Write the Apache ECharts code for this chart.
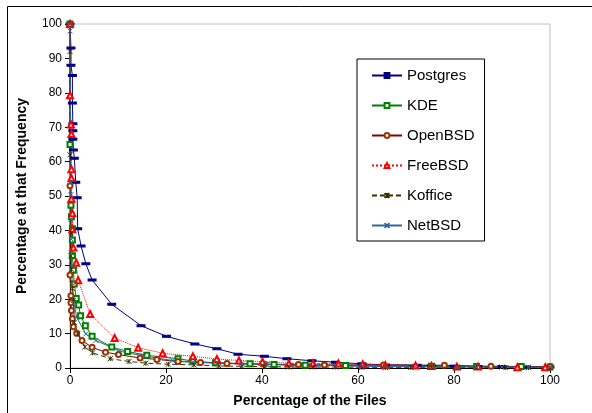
<!DOCTYPE html>
<html><head><meta charset="utf-8">
<script src="https://cdn.jsdelivr.net/npm/echarts@6/dist/echarts.min.js"></script>
<style>html,body{margin:0;padding:0;background:#fff}#c{width:592px;height:413px}</style>
</head><body><div id="c"></div>
<script>
const xTicks = [0, 20, 40, 60, 80, 100];
const seriesNames = ['Postgres', 'KDE', 'OpenBSD', 'FreeBSD', 'Koffice', 'NetBSD'];

const postgresX = [0, 0.2, 0.2, 0.5, 0.5, 0.6, 0.6, 0.6, 0.7, 0.9, 1.2, 1.5, 1.6, 2.3, 3.3, 4.6, 8.7, 14.8, 20.1, 26, 30.6, 35, 40.5, 45.2, 50.4, 55.3, 60.8, 65.7, 72.3, 75.3, 80, 85, 90, 95, 100];
const postgresY = [100, 93, 88, 85, 77, 71, 69, 66.5, 63.4, 61, 54, 49.5, 40.5, 35.5, 30.3, 25.6, 18.5, 12.3, 9.2, 7, 5.6, 4, 3.4, 2.7, 2.1, 1.7, 1.2, 0.9, 0.8, 0.6, 0.5, 0.4, 0.4, 0.3, 0.3];

const kdeX = [0, 0, 0.2, 0.3, 0.5, 0.5, 0.5, 0.7, 0.9, 1.3, 1.8, 2.2, 3.2, 4.6, 8.7, 12, 16, 22.5, 25.6, 30.3, 37.5, 42.5, 49, 57.4, 75.3, 84.7, 94, 100];
const kdeY = [100, 65, 47.3, 44, 40.5, 37.2, 32.6, 28.4, 24.4, 20.2, 18.3, 15.2, 12.3, 9.2, 6.1, 4.8, 3.7, 2.7, 2, 1.5, 1.2, 1, 0.8, 0.7, 0.5, 0.4, 0.4, 0.3];

const openbsdX = [0, 0, 0, 0.2, 0.2, 0.3, 0.5, 0.7, 1.4, 2.5, 4.6, 7.4, 10.1, 14.6, 18.1, 22.5, 27.2, 32.7, 40.5, 47.6, 53, 65.3, 78, 87.7, 100];
const openbsdY = [100, 53, 27, 21, 19, 16.7, 14.3, 12, 10.1, 8, 6, 4.6, 3.9, 2.9, 2.5, 1.9, 1.6, 1.3, 1.1, 1, 0.9, 0.9, 0.8, 0.5, 0.4];

const freebsdX = [0, 0, 0.2, 0.3, 0.3, 0.3, 0.3, 0.5, 0.5, 0.7, 1.3, 1.7, 4.2, 9.3, 14.2, 19.3, 25.6, 30.6, 35.2, 40.1, 45.6, 50.6, 55.9, 61, 65.7, 72, 75.3, 80.6, 85, 93.2, 99];
const freebsdY = [100, 79.3, 70.8, 68, 57.8, 55.2, 49.2, 45, 40.3, 35, 30.6, 25.5, 15.7, 8.7, 5.9, 4.3, 3.4, 2.6, 2.2, 1.8, 1.4, 1.3, 1.3, 1.1, 0.8, 0.7, 0.6, 0.4, 0.4, 0.2, 0.2];

const kofficeX = [0, 0, 0, 0.2, 0.2, 0.3, 0.5, 0.7, 0.9, 1.6, 3.1, 4.7, 8.4, 12.3, 15.8, 20.5, 25.8, 31, 35.8, 40.5, 45.6, 50.7, 55.3, 60.8, 65.7, 71, 75.3, 80.6, 84.7, 90.8, 95.5, 100];
const kofficeY = [100, 92, 62, 39.3, 32.6, 28.7, 23.1, 19.6, 13.3, 9.9, 6.1, 4.4, 2.7, 1.9, 1.4, 1.1, 0.9, 0.6, 0.5, 0.4, 0.3, 0.3, 0.3, 0.2, 0.2, 0.2, 0.2, 0.2, 0.2, 0.1, 0.1, 0.1];

const netbsdX = [0, 0, 0.2, 0.2, 0.2, 0.3, 0.3, 0.3, 0.5, 0.8, 1.4, 3.3, 5.4, 10.3, 15.4, 21.3, 25.6, 30.4, 35.8, 41, 46, 51.5, 55.5, 60.8, 65.7, 72, 75.7, 80.6, 84.7, 90, 95.5, 100];
const netbsdY = [100, 98, 54, 50.4, 43.2, 37.4, 33.5, 29.7, 24, 19, 14.7, 9.9, 8, 4.9, 3.5, 2.2, 1.7, 1.5, 1.3, 1.1, 0.8, 0.8, 0.6, 0.5, 0.4, 0.4, 0.4, 0.3, 0.3, 0.3, 0.3, 0.3];

function pts(xs, ys) { return xs.map((x, i) => [x, ys[i]]); }

const chart = echarts.init(document.getElementById('c'), null, {renderer: 'canvas'});
const F = 'Liberation Sans, Arial, sans-serif';
const xPath = 'path://M0,0L10,10M10,0L0,10';
const starPath = 'path://M0,0L10,10M10,0L0,10M5,0L5,10';

function mk(name, xs, ys, color, lineType, symbol, size, extra) {
  return Object.assign({
    name: name, type: 'line', data: pts(xs, ys), color: color,
    symbol: symbol, symbolSize: size, showAllSymbol: true,
    lineStyle: {color: color, width: 1, type: lineType},
    itemStyle: {color: color, borderColor: color, borderWidth: 1},
    animation: false, z: 3
  }, extra || {});
}

chart.setOption({
  animation: false,
  backgroundColor: '#fff',
  graphic: [{type: 'rect', shape: {x: 7.5, y: 6.5, width: 600, height: 420}, style: {fill: 'none', stroke: '#000', lineWidth: 1}, z: -1}],
  grid: {left: 70, top: 24, width: 480, height: 345, show: true, borderColor: '#c0c0c0', borderWidth: 1, backgroundColor: '#fff'},
  xAxis: {
    type: 'value', min: 0, max: 100, interval: 20,
    name: 'Percentage of the Files', nameLocation: 'middle', nameGap: 26,
    nameTextStyle: {fontFamily: F, fontWeight: 'bold', fontSize: 14, color: '#000'},
    axisLine: {show: true, onZero: false, lineStyle: {color: '#000', width: 1}},
    axisTick: {show: true, inside: false, length: 5, lineStyle: {color: '#000'}},
    axisLabel: {fontFamily: F, fontSize: 12, color: '#000', margin: 7},
    splitLine: {show: false}
  },
  yAxis: {
    type: 'value', min: 0, max: 100, interval: 10,
    name: 'Percentage at that Frequency', nameLocation: 'middle', nameGap: 41,
    nameTextStyle: {fontFamily: F, fontWeight: 'bold', fontSize: 14, color: '#000'},
    axisLine: {show: true, onZero: false, lineStyle: {color: '#000', width: 1}},
    axisTick: {show: true, inside: false, length: 5, lineStyle: {color: '#000'}},
    axisLabel: {fontFamily: F, fontSize: 12, color: '#000', margin: 8},
    splitLine: {show: false}
  },
  legend: {
    orient: 'vertical', left: 357, top: 59, width: 128, height: 182,
    padding: [8, 10, 7, 14], itemGap: 13, itemWidth: 30, itemHeight: 6,
    backgroundColor: '#fff', borderColor: '#000', borderWidth: 1,
    textStyle: {fontFamily: F, fontSize: 15, color: '#000', lineHeight: 17},
    data: seriesNames
  },
  series: [
    mk('Postgres', postgresX, postgresY, '#000080', 'solid', 'rect', [6, 2]),
    mk('KDE', kdeX, kdeY, '#008000', 'solid', 'emptyRect', 5),
    mk('OpenBSD', openbsdX, openbsdY, '#993300', 'solid', 'emptyCircle', 5, {lineStyle: {color: '#800000', width: 1}}),
    mk('FreeBSD', freebsdX, freebsdY, '#ff0000', 'dotted', 'emptyTriangle', 6),
    mk('Koffice', kofficeX, kofficeY, '#333300', [5, 3], starPath, 5),
    mk('NetBSD', netbsdX, netbsdY, '#336699', 'solid', xPath, 5)
  ]
});
</script></body></html>
